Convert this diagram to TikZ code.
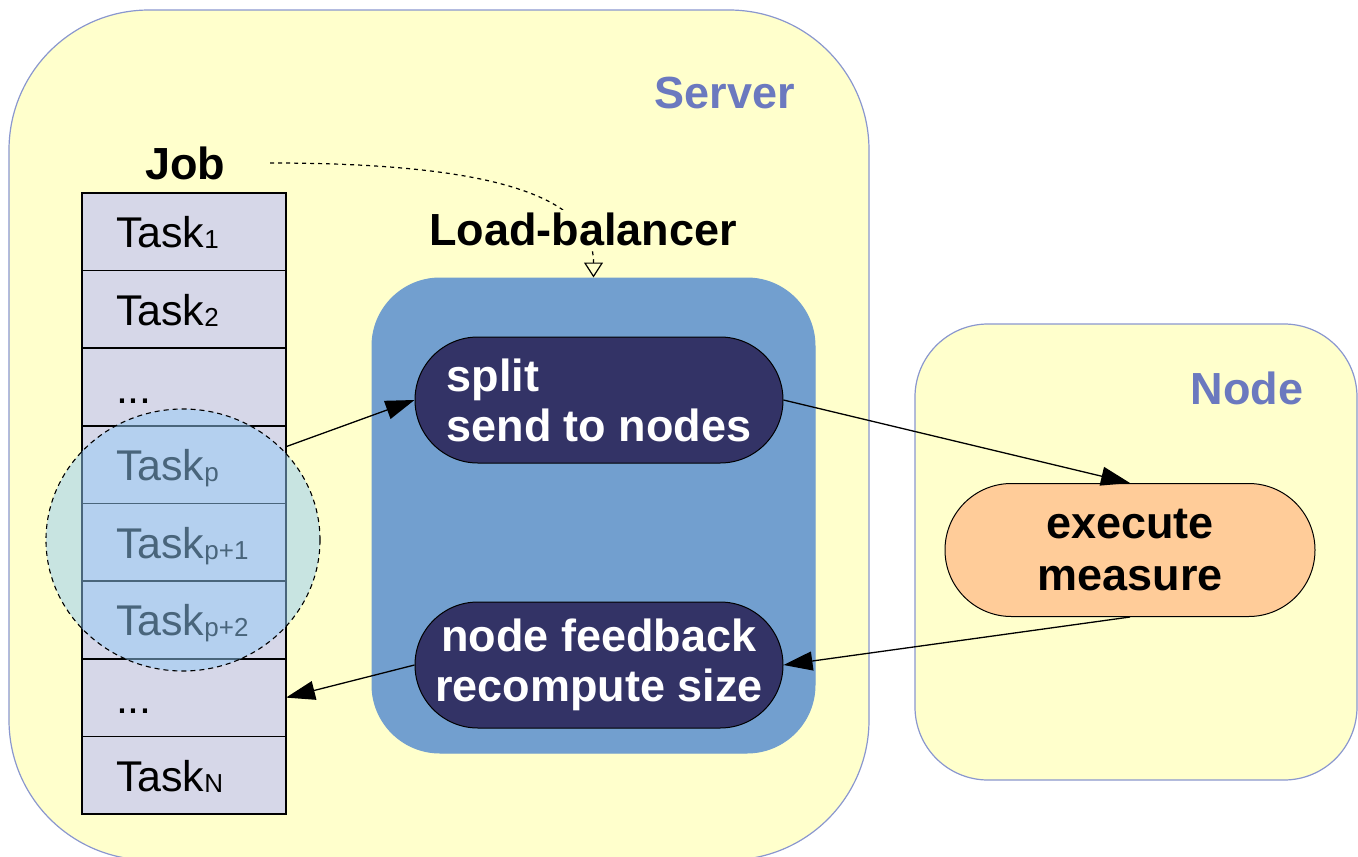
\documentclass[tikz,border=0pt]{standalone}
\usepackage{fontspec}
\setmainfont{Liberation Sans}
\usetikzlibrary{arrows.meta,shapes.geometric}
\definecolor{srvfill}{HTML}{FFFFCC}
\definecolor{srvdraw}{HTML}{8A97CF}
\definecolor{lblblue}{HTML}{6B79BF}
\definecolor{lbfill}{HTML}{729FCF}
\definecolor{navy}{HTML}{333366}
\definecolor{peach}{HTML}{FFCC99}
\definecolor{taskfill}{HTML}{D6D7E8}
\definecolor{selfill}{HTML}{93CAF7}
\newcommand\tsub[1]{\raisebox{-1pt}{\fontsize{26}{26}\selectfont #1}}
\begin{document}
\begin{tikzpicture}[x=1pt,y=-1pt,
  container/.style={draw=srvdraw,fill=srvfill,line width=1.2pt,inner sep=0pt,outer sep=0pt},
  boxlabel/.style={text=lblblue,font=\fontsize{45}{50}\selectfont\bfseries,inner sep=0pt},
  blabel/.style={text=black,font=\fontsize{45}{50}\selectfont\bfseries,inner sep=0pt},
  taskrow/.style={draw,line width=1.5pt,fill=taskfill,minimum width=204pt,minimum height=77.6pt,
    text width=136pt,inner xsep=34pt,inner ysep=0pt,text height=32pt,text depth=0pt,align=left,
    font=\fontsize{43}{47}\selectfont,outer sep=0pt},
  stadium/.style={draw,line width=1pt,fill=navy,text=white,inner sep=0pt,
    minimum width=368pt,minimum height=126pt,rounded corners=62.9pt,
    font=\fontsize{45}{50}\selectfont\bfseries},
  conn/.style={line width=1.3pt,-{Triangle[length=29pt,width=19pt]}},
  jobline/.style={line width=1.2pt,dash pattern=on 4pt off 4pt,-{Triangle[open,length=15pt,width=19pt]}}
]
\useasboundingbox (0,0) rectangle (1358,857);

% containers
\node[container,minimum width=860pt,minimum height=850pt,rounded corners=140pt] (server) at (439,435) {};
\node[container,minimum width=442pt,minimum height=456pt,rounded corners=73pt] (nodebox) at (1136,552) {};
\node[draw=lbfill,fill=lbfill,line width=1pt,minimum width=443pt,minimum height=475pt,rounded corners=68pt,inner sep=0pt] (lb) at (593.5,515.5) {};

% task column
\node[taskrow] (r1) at (184,231.8) {Task\tsub{1}};
\node[taskrow] (r2) at (184,309.4) {Task\tsub{2}};
\node[taskrow] (r3) at (184,387.1) {...};
\node[taskrow] (r4) at (184,464.7) {Task\tsub{p}};
\node[taskrow] (r5) at (184,542.3) {Task\tsub{p+1}};
\node[taskrow] (r6) at (184,619.9) {Task\tsub{p+2}};
\node[taskrow] (r7) at (184,697.6) {...};
\node[taskrow] (r8) at (184,775.2) {Task\tsub{N}};

% process nodes
\node[stadium,align=left] (split) at (599,400) {split\\send to nodes};
\node[stadium,align=center] (feed) at (599,665) {node feedback\\recompute size};
\node[draw,line width=1pt,fill=peach,text=black,inner sep=0pt,minimum width=370pt,minimum height=133pt,
  rounded corners=66.4pt,font=\fontsize{45}{52}\selectfont\bfseries,align=center] (exec) at (1130,550) {execute\\measure};

% selection circle
\node[ellipse,draw=black,line width=1.1pt,dash pattern=on 5pt off 4pt,fill=selfill,fill opacity=0.5,draw opacity=1,
  minimum width=274pt,minimum height=262pt,inner sep=0pt] (sel) at (183,540) {};

% connectors
\draw[conn] ([yshift=18pt]r4.east) -- (split.west);
\draw[conn] (split.east) -- (exec.north);
\draw[conn] (exec.south) -- (feed.east);
\draw[conn] (feed.west) -- (r7.east);

% labels
\node[boxlabel] (srvlbl) at (725,93) {Server};
\node[boxlabel] (nodelbl) at (1247,388) {Node};
\node[blabel] (job) at (185,163) {Job};
\draw[jobline] ([xshift=45pt]job.east) .. controls +(200,0) and +(0,-88) .. (lb.north);
\node[blabel,fill=srvfill,inner sep=2pt] (lblbl) at (583,229) {Load-balancer};
\end{tikzpicture}
\end{document}
